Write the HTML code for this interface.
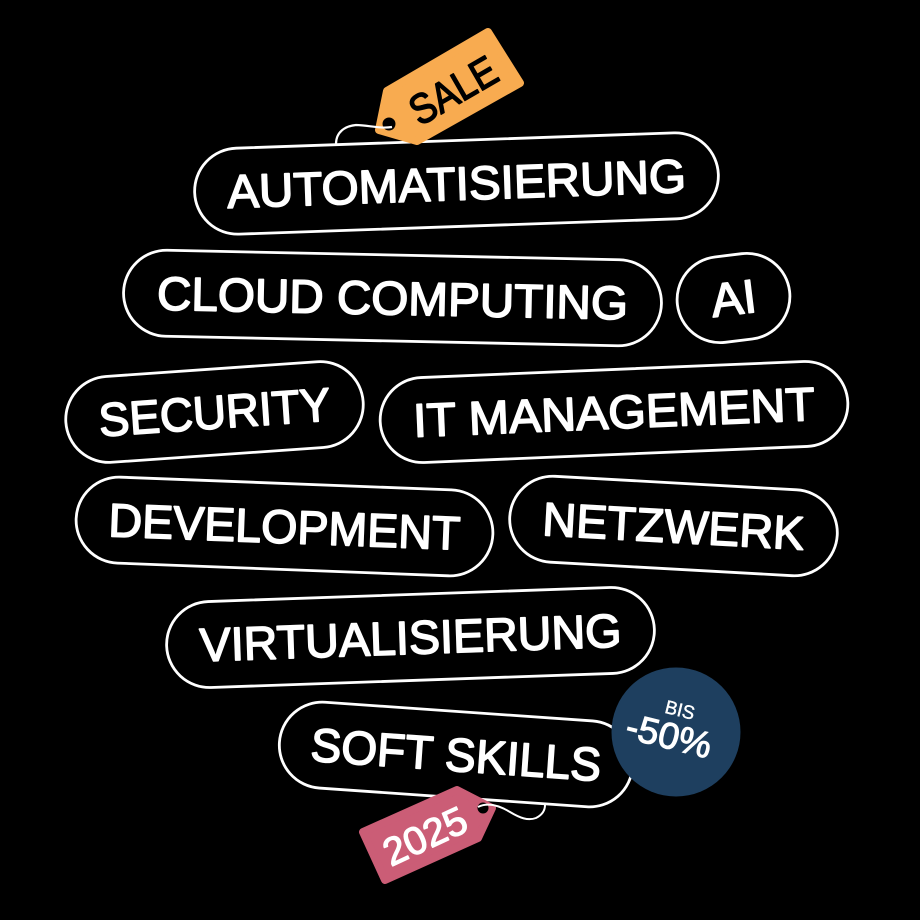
<!DOCTYPE html>
<html><head><meta charset="utf-8"><style>
html,body{margin:0;padding:0;background:#000;width:920px;height:920px;overflow:hidden}
svg{display:block}
text{font-family:"Liberation Sans",sans-serif;fill:#fff;text-anchor:middle}
.p{font-size:47px;stroke:#fff;stroke-width:1.6px;stroke-linejoin:round}
rect{fill:#000;stroke:#fff;stroke-width:2.8}
</style></head><body>
<svg width="920" height="920" viewBox="0 0 920 920" xmlns="http://www.w3.org/2000/svg">
<rect x="0" y="0" width="920" height="920" style="stroke:none"/>
<g transform="translate(456.5,183.5) rotate(-2)"><rect x="-262" y="-43" width="524" height="86" rx="43"/><text class="p" y="16.5" textLength="459" lengthAdjust="spacingAndGlyphs">AUTOMATISIERUNG</text></g>
<g transform="translate(392.5,298) rotate(1.2)"><rect x="-269" y="-43" width="538" height="86" rx="43"/><text class="p" y="16.5" textLength="471" lengthAdjust="spacingAndGlyphs">CLOUD COMPUTING</text></g>
<g transform="translate(733.5,298) rotate(-7)"><rect x="-56.5" y="-43" width="113" height="86" rx="43"/><text class="p" y="16.5" textLength="45" lengthAdjust="spacingAndGlyphs">AI</text></g>
<g transform="translate(214.5,412) rotate(-4)"><rect x="-149" y="-43" width="298" height="86" rx="43"/><text class="p" y="16.5" textLength="232" lengthAdjust="spacingAndGlyphs">SECURITY</text></g>
<g transform="translate(614,412) rotate(-2.4)"><rect x="-234" y="-42.5" width="468" height="85" rx="42.5"/><text class="p" y="16.5" textLength="402" lengthAdjust="spacingAndGlyphs">IT MANAGEMENT</text></g>
<g transform="translate(284.5,526.5) rotate(2.2)"><rect x="-208.5" y="-43" width="417" height="86" rx="43"/><text class="p" y="16.5" textLength="352" lengthAdjust="spacingAndGlyphs">DEVELOPMENT</text></g>
<g transform="translate(673.5,526) rotate(3.2)"><rect x="-164" y="-43" width="328" height="86" rx="43"/><text class="p" y="16.5" textLength="262" lengthAdjust="spacingAndGlyphs">NETZWERK</text></g>
<g transform="translate(410.5,637.5) rotate(-2)"><rect x="-244" y="-43" width="488" height="86" rx="43"/><text class="p" y="16.5" textLength="422" lengthAdjust="spacingAndGlyphs">VIRTUALISIERUNG</text></g>
<g transform="translate(456,754.5) rotate(4)"><rect x="-177" y="-43" width="354" height="86" rx="43"/><text class="p" y="16.5" textLength="291" lengthAdjust="spacingAndGlyphs">SOFT SKILLS</text></g>

<polygon points="488,32 520,83 417,141 379,130 387,91" fill="#f8ab50" stroke="#f8ab50" stroke-width="8" stroke-linejoin="round"/>
<circle cx="389" cy="124" r="6.5" fill="#000"/>
<path d="M336,144 C336,132 345,126 356,125 C368,125 380,129 392,127" fill="none" stroke="#fff" stroke-width="2.2"/>
<text transform="translate(453,90) rotate(-30)" font-size="42" y="15" textLength="94" lengthAdjust="spacingAndGlyphs" style="fill:#000;stroke:#000;stroke-width:1.5px;stroke-linejoin:round">SALE</text>

<circle cx="676" cy="732" r="64.5" fill="#1e3f5f"/>
<text transform="translate(680,710) rotate(14)" font-size="19" y="6.5" textLength="30" lengthAdjust="spacingAndGlyphs" style="stroke:#fff;stroke-width:.4px">BIS</text>
<text transform="translate(669,736) rotate(14)" font-size="37" y="12.5" textLength="87" lengthAdjust="spacingAndGlyphs" style="stroke:#fff;stroke-width:1px">-50%</text>

<polygon points="363,832 385,880 478,838 492,808 457,790" fill="#cb5d76" stroke="#cb5d76" stroke-width="8" stroke-linejoin="round"/>
<circle cx="483" cy="808" r="5.5" fill="#000"/>
<path d="M478,807 C488,802 500,806 510,812 C520,818 528,821 536,818 C542,815 545,811 545,805" fill="none" stroke="#fff" stroke-width="2"/>
<text transform="translate(425,836) rotate(-25)" font-size="39" y="13.5" textLength="88" lengthAdjust="spacingAndGlyphs" style="stroke:#fff;stroke-width:1.2px;stroke-linejoin:round">2025</text>
</svg>
</body></html>
